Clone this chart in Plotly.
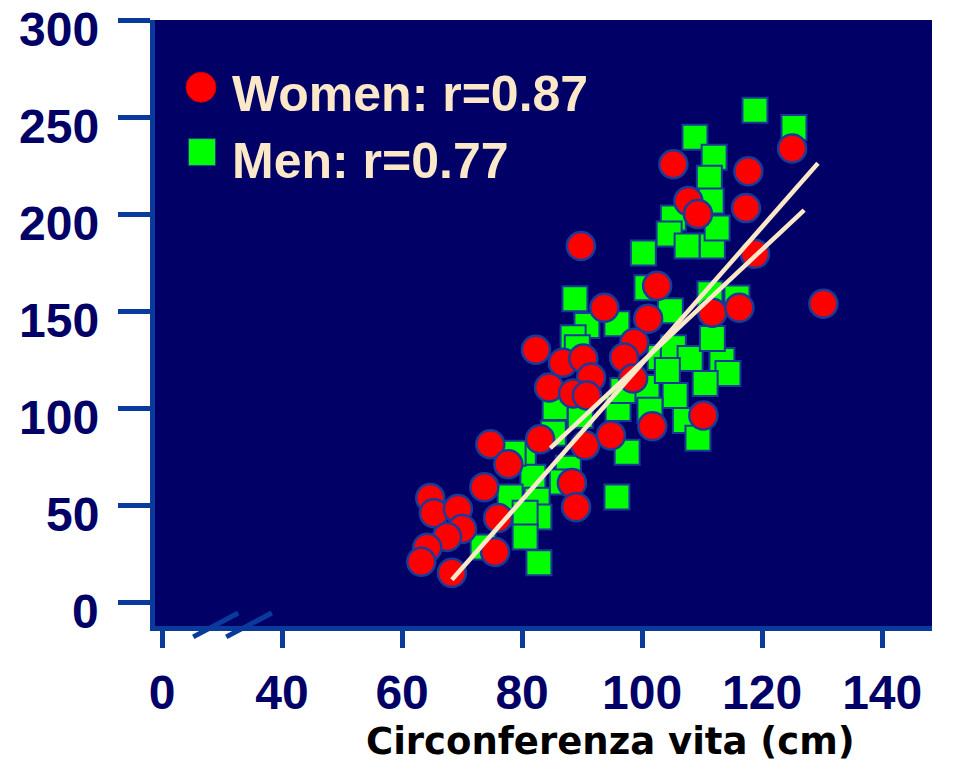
import plotly.graph_objects as go

# ---- data (waist circumference in cm vs visceral fat) ----
women_x = [125.0, 105.2, 117.7, 107.7, 109.3, 117.3, 89.8, 118.8, 130.2, 102.5,
           93.7, 101.0, 111.7, 116.2, 82.3, 86.8, 90.2, 91.5, 98.7, 97.0,
           98.5, 84.5, 88.5, 90.8, 83.0, 90.5, 94.8, 101.7, 110.2, 74.7,
           77.7, 73.7, 88.3, 89.0, 76.0, 64.7, 65.3, 69.3, 70.0, 67.5,
           64.2, 63.2, 75.5, 68.3]
women_y = [234.3, 226.1, 222.5, 207.1, 200.4, 203.5, 184.0, 179.9, 154.2, 163.4,
           152.1, 146.5, 149.5, 152.1, 130.5, 123.8, 125.9, 116.1, 134.1, 126.4,
           115.6, 111.0, 107.9, 106.9, 84.3, 81.2, 86.3, 91.0, 96.6, 81.7,
           71.4, 59.6, 61.7, 49.3, 43.7, 54.0, 46.2, 48.3, 38.0, 33.9,
           28.3, 21.1, 26.2, 15.4]

men_x = [118.8, 125.3, 108.8, 112.0, 111.2, 111.5, 105.2, 104.5, 107.5, 111.7,
         112.5, 100.2, 100.8, 88.8, 111.3, 115.8, 90.8, 95.8, 104.7, 88.5,
         89.2, 103.0, 105.2, 108.0, 113.3, 114.3, 110.5, 105.5, 100.8, 101.3,
         96.0, 96.8, 85.5, 89.7, 85.2, 107.2, 109.3, 97.5, 80.2, 81.8,
         87.7, 86.7, 95.8, 78.0, 82.5, 82.8, 80.5, 80.5, 82.8, 73.5,
         78.5, 111.7, 104.2]
men_y = [253.9, 245.1, 240.0, 229.7, 218.9, 207.1, 198.4, 190.1, 184.0, 184.0,
         193.2, 180.4, 162.4, 156.7, 159.3, 157.2, 142.9, 143.9, 150.6, 136.7,
         131.5, 126.4, 131.5, 125.9, 124.9, 118.2, 113.0, 106.9, 111.0, 99.2,
         100.2, 109.5, 100.7, 96.6, 87.4, 94.0, 84.8, 77.6, 75.0, 64.7,
         69.4, 62.2, 54.5, 54.5, 52.9, 44.2, 46.2, 33.9, 20.6, 28.8,
         77.1, 136.2, 119.7]

# regression line endpoints
women_fit_x = [68.3, 129.3]
women_fit_y = [11.8, 226.6]
men_fit_x = [84.7, 127.0]
men_fit_y = [79.7, 202.5]

# axis ticks (broken axis: position 20 carries the label "0")
x_tickvals = [20, 40, 60, 80, 100, 120, 140]
x_ticktext = ["0", "40", "60", "80", "100", "120", "140"]
y_tickvals = [0, 50, 100, 150, 200, 250, 300]
y_ticktext = ["0", "50", "100", "150", "200", "250", "300"]

legend_labels = ["Women: r=0.87", "Men: r=0.77"]
x_title = "Circonferenza vita (cm)"

NAVY = "#000066"
AXIS = "#0a3a9c"
CREAM = "#FBE8C8"
EDGE = "#1a3a9a"

fig = go.Figure()
fig.add_trace(go.Scatter(x=men_x, y=men_y, mode="markers",
                         marker=dict(symbol="square", size=25, color="#00FF00",
                                     line=dict(color=EDGE, width=2)),
                         showlegend=False, hoverinfo="skip"))
fig.add_trace(go.Scatter(x=women_x, y=women_y, mode="markers",
                         marker=dict(symbol="circle", size=28, color="#FF0000",
                                     line=dict(color=EDGE, width=2.5)),
                         showlegend=False, hoverinfo="skip"))
fig.add_trace(go.Scatter(x=women_fit_x, y=women_fit_y, mode="lines",
                         line=dict(color=CREAM, width=4.5),
                         showlegend=False, hoverinfo="skip"))
fig.add_trace(go.Scatter(x=men_fit_x, y=men_fit_y, mode="lines",
                         line=dict(color=CREAM, width=4.5),
                         showlegend=False, hoverinfo="skip"))

tickfont = dict(family="Liberation Sans, Arial, sans-serif", size=48,
                color=NAVY, weight="bold")

# page body has an 8px margin, so the figure is sized/margined to compensate
fig.update_layout(
    width=957, height=757,
    margin=dict(l=147, r=33, t=12, b=139),
    paper_bgcolor="white",
    plot_bgcolor=NAVY,
    xaxis=dict(range=[18.83, 148.3], tickvals=x_tickvals, ticktext=x_ticktext,
               showgrid=False, zeroline=False, showline=True, linecolor=AXIS,
               linewidth=5, ticks="outside", ticklen=17, tickwidth=5,
               tickcolor=AXIS, tickfont=tickfont, ticklabelstandoff=3,
               automargin=False, ticklabeloverflow="allow",
               fixedrange=True),
    yaxis=dict(range=[-12, 300.5], tickvals=y_tickvals,
               showgrid=False, zeroline=False, showline=True, linecolor=AXIS,
               linewidth=5, ticks="outside", ticklen=32, tickwidth=5,
               tickcolor=AXIS, showticklabels=False,
               automargin=False, fixedrange=True),
)

# y tick labels (sit slightly below their ticks, as in the original)
for v, t in zip(y_tickvals, y_ticktext):
    fig.add_annotation(xref="paper", yref="y", x=0, y=v, xanchor="right",
                       yanchor="middle", xshift=-54, yshift=-9, showarrow=False,
                       text=t, font=tickfont)

# axis break marks
for xa, xb in [(25.2, 32.7), (30.7, 38.3)]:
    fig.add_shape(type="line", xref="x", yref="paper", x0=xa, x1=xb,
                  y0=-0.018, y1=0.0215, line=dict(color=AXIS, width=5))

# legend (drawn manually for large symbols)
fig.add_shape(type="circle", xref="paper", yref="paper",
              xsizemode="pixel", ysizemode="pixel",
              xanchor=0.0592, yanchor=0.889, x0=-15, x1=15, y0=-15, y1=15,
              fillcolor="#FF0000", line=dict(color="#cc0000", width=1))
fig.add_shape(type="rect", xref="paper", yref="paper",
              xsizemode="pixel", ysizemode="pixel",
              xanchor=0.0605, yanchor=0.782, x0=-13.5, x1=13.5, y0=-13.5, y1=13.5,
              fillcolor="#00FF00", line=dict(color=EDGE, width=1))
for label, yp in zip(legend_labels, [0.878, 0.767]):
    fig.add_annotation(xref="paper", yref="paper", x=0.096, y=yp,
                       xanchor="left", yanchor="middle", showarrow=False,
                       text="<b>" + label + "</b>",
                       font=dict(family="Liberation Sans, Arial, sans-serif",
                                 size=50, color=CREAM))

# x-axis title
fig.add_annotation(xref="paper", yref="paper", x=(610 - 155) / 777, y=-0.191,
                   xanchor="center", yanchor="middle", showarrow=False,
                   text="<b>" + x_title + "</b>",
                   font=dict(family="DejaVu Sans, sans-serif", size=37,
                             color="black"))

fig.write_html("out.html")
